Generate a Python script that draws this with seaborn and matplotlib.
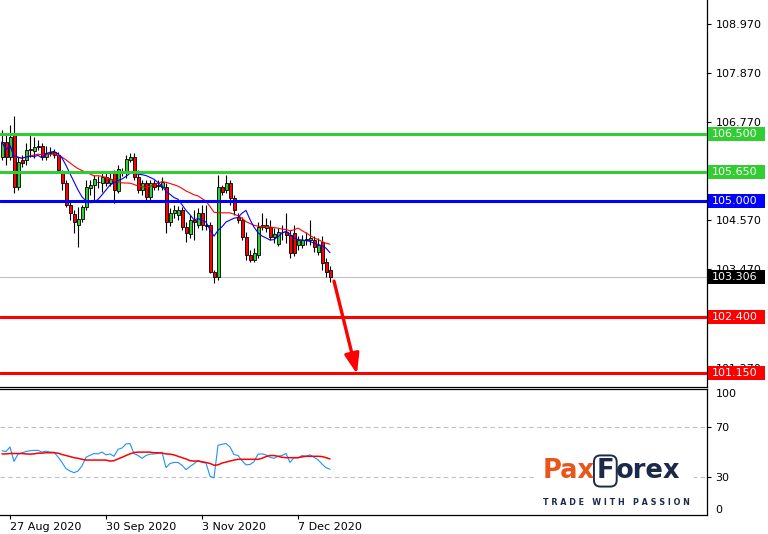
import matplotlib
matplotlib.use("Agg")
import matplotlib.pyplot as plt
import matplotlib.transforms as mtransforms
from matplotlib.patches import Rectangle
from matplotlib.text import Annotation
import seaborn as sns
import numpy as np
import pandas as pd

# ---------------------------------------------------------------- data
first_day = "2020-08-25"

opens = [105.98, 106.32, 105.98, 106.48, 105.31, 105.92, 105.92, 106.14, 106.12, 106.23,
         106.23, 105.98, 106.07, 106.10, 106.03, 105.65, 105.40, 104.91, 104.71, 104.46,
         104.60, 104.87, 105.29, 105.36, 105.43, 105.40, 105.54, 105.40, 105.65, 105.22,
         105.63, 105.63, 105.92, 105.98, 105.54, 105.25, 105.40, 105.09, 105.40, 105.36,
         105.31, 105.31, 104.53, 104.73, 104.69, 104.80, 104.42, 104.26, 104.57, 104.46,
         104.73, 104.46, 104.46, 103.41, 103.30, 105.31, 105.25, 105.40, 105.07, 104.64,
         104.57, 104.19, 103.79, 103.68, 103.79, 104.42, 104.40, 104.42, 104.19, 104.04,
         104.31, 104.31, 104.24, 104.28, 104.02, 104.02, 104.15, 104.13, 104.13, 103.86,
         104.08, 103.64, 103.46]
highs = [106.59, 106.48, 106.70, 106.90, 105.98, 106.03, 106.30, 106.52, 106.43, 106.36,
         106.30, 106.23, 106.21, 106.16, 106.10, 105.69, 105.47, 105.02, 104.80, 104.87,
         104.91, 105.47, 105.47, 105.58, 105.56, 105.65, 105.63, 105.65, 105.69, 105.81,
         105.74, 106.03, 106.07, 106.07, 105.69, 105.47, 105.47, 105.47, 105.47, 105.47,
         105.54, 105.40, 104.84, 104.91, 104.89, 104.87, 104.53, 104.69, 104.80, 104.84,
         104.91, 104.91, 104.53, 103.46, 105.58, 105.36, 105.58, 105.47, 105.13, 104.73,
         104.64, 104.31, 103.90, 103.95, 104.53, 104.73, 104.62, 104.57, 104.40, 104.40,
         104.46, 104.73, 104.35, 104.46, 104.22, 104.24, 104.31, 104.57, 104.22, 104.17,
         104.22, 103.72, 103.55]
lows = [105.92, 105.81, 105.92, 105.18, 105.25, 105.76, 105.81, 105.98, 105.96, 106.14,
        105.92, 105.92, 106.01, 105.96, 105.65, 105.25, 104.87, 104.57, 104.28, 103.97,
        104.53, 104.80, 105.13, 105.02, 105.29, 105.20, 105.34, 105.34, 104.96, 105.18,
        105.56, 105.51, 105.87, 105.47, 105.18, 105.13, 105.02, 105.02, 105.25, 105.25,
        105.25, 104.28, 104.44, 104.62, 104.57, 104.35, 104.08, 104.17, 104.13, 104.40,
        104.35, 104.35, 103.39, 103.17, 103.23, 105.13, 105.18, 104.91, 104.69, 104.51,
        104.13, 103.68, 103.64, 103.64, 103.72, 104.35, 104.31, 104.13, 104.06, 103.99,
        104.13, 104.06, 103.72, 103.77, 103.90, 103.95, 104.02, 104.02, 103.86, 103.79,
        103.46, 103.30, 103.19]
closes = [106.32, 105.98, 106.43, 105.31, 105.87, 105.85, 106.14, 106.16, 106.21, 106.22,
          105.98, 106.07, 106.10, 106.03, 105.69, 105.40, 104.91, 104.73, 104.53, 104.60,
          104.87, 105.31, 105.36, 105.49, 105.42, 105.54, 105.40, 105.49, 105.25, 105.72,
          105.65, 105.94, 105.98, 105.54, 105.25, 105.40, 105.09, 105.40, 105.31, 105.34,
          105.43, 104.53, 104.73, 104.80, 104.80, 104.42, 104.28, 104.57, 104.53, 104.73,
          104.46, 104.45, 103.41, 103.30, 105.31, 105.20, 105.40, 105.07, 104.80, 104.57,
          104.19, 103.79, 103.68, 103.84, 104.42, 104.46, 104.46, 104.19, 104.26, 104.31,
          104.30, 104.24, 103.84, 103.84, 104.13, 104.13, 104.14, 104.17, 103.97, 104.02,
          103.61, 103.41, 103.306]

rsi = [51.0, 50.4, 54.0, 42.5, 48.3, 49.4, 50.4, 51.0, 51.3, 51.3,
       49.9, 50.7, 49.9, 49.9, 46.1, 41.7, 36.8, 34.9, 33.6, 34.9,
       39.0, 45.8, 47.4, 48.8, 48.5, 49.9, 47.7, 48.5, 46.6, 52.1,
       53.2, 56.4, 56.7, 48.8, 47.2, 45.0, 47.2, 48.3, 48.5, 48.8,
       49.9, 37.6, 40.9, 41.7, 41.7, 39.5, 36.0, 38.5, 40.6, 43.4,
       41.7, 41.2, 30.8, 29.5, 55.3, 56.1, 56.7, 54.0, 48.0, 47.2,
       43.1, 39.8, 40.1, 42.3, 48.3, 48.5, 47.7, 45.8, 45.0, 46.6,
       47.2, 48.8, 41.7, 45.5, 45.3, 47.2, 46.6, 47.7, 45.8, 43.9,
       40.4, 37.6, 36.3]
rsi_signal = [48.5, 48.5, 48.8, 48.8, 48.8, 48.8, 48.5, 48.3, 48.5, 49.1,
              49.1, 49.4, 49.4, 49.4, 49.1, 48.0, 47.2, 46.4, 45.5, 45.0,
              44.2, 43.6, 43.6, 43.6, 43.6, 43.6, 43.6, 42.8, 43.1, 44.5,
              45.8, 47.2, 48.5, 49.6, 49.9, 49.9, 49.9, 49.9, 49.4, 49.4,
              49.1, 48.5, 48.3, 47.7, 46.6, 45.5, 44.5, 43.1, 42.8, 42.8,
              42.3, 41.7, 40.9, 39.5, 39.8, 41.2, 42.0, 42.8, 43.6, 44.2,
              44.2, 44.2, 44.2, 44.2, 44.2, 45.0, 46.4, 47.2, 47.2, 46.6,
              45.8, 45.5, 45.5, 45.5, 45.5, 46.1, 46.6, 46.6, 46.6, 46.6,
              46.4, 45.5, 44.5]

levels = [106.50, 105.65, 105.00, 102.40, 101.15]
level_colors = ["#32CD32", "#32CD32", "#0000FF", "#FF0000", "#FF0000"]
# 105.670 and 102.370 sit fully under the level tags, so they are left out
price_ticks = [101.27, 103.47, 104.57, 106.77, 107.87, 108.97]
rsi_ticks = [0, 30, 70, 100]
rsi_levels = [30, 70]
tick_dates = ["2020-08-27", "2020-09-30", "2020-11-03", "2020-12-07"]
arrow_from = (83, 103.21)
arrow_to = (88.75, 101.13)

GREEN = "#32CD32"
ORANGE = "#E8561C"
NAVY = "#1B2A4A"

# ---------------------------------------------------------------- frame
sns.set_style("white")
plt.rcParams["font.family"] = ["DejaVu Sans"]

dates = pd.bdate_range(first_day, periods=len(closes))
df = pd.DataFrame({"i": np.arange(len(closes)), "open": opens, "high": highs,
                   "low": lows, "close": closes, "rsi": rsi, "sig": rsi_signal})
df["ma_fast"] = df["close"].rolling(8, min_periods=1).mean()
df["ma_slow"] = df["close"].rolling(21, min_periods=1).mean()

W, H = 768, 534
fig = plt.figure(figsize=(W / 100, H / 100), dpi=100)
ax = fig.add_axes([0, 1 - 387 / H, 707 / W, 387 / H])
axr = fig.add_axes([0, 1 - 515 / H, 707 / W, 126 / H], sharex=ax)

# ---------------------------------------------------------------- candles
up = df["close"] >= df["open"]
ax.vlines(df["i"], df["low"], df["high"], color="black", lw=0.8, zorder=2)
ax.bar(df["i"][up], (df["close"] - df["open"])[up], bottom=df["open"][up],
       width=0.75, color=GREEN, edgecolor="black", lw=0.6, zorder=3)
ax.bar(df["i"][~up], (df["open"] - df["close"])[~up], bottom=df["close"][~up],
       width=0.75, color="#FF0000", edgecolor="black", lw=0.6, zorder=3)

sns.lineplot(data=df, x="i", y="ma_slow", ax=ax, color="#FF0000", lw=0.8, zorder=4)
sns.lineplot(data=df, x="i", y="ma_fast", ax=ax, color="#0000FF", lw=0.8, zorder=4)

ax.axhline(closes[-1], color="#C0C0C0", lw=0.8, zorder=1)
for lvl, col in zip(levels, level_colors):
    ax.axhline(lvl, color=col, lw=2.2, zorder=5)

ax.annotate("", xy=arrow_to, xytext=arrow_from,
            arrowprops=dict(arrowstyle="-|>,head_length=0.6,head_width=0.22",
                            color="#FF0000", lw=2.4, mutation_scale=20,
                            shrinkA=0, shrinkB=0), zorder=6)

ax.set_xlim(-0.5, 176.25)
ax.set_ylim(100.84, 109.50)
ax.set_xlabel("")
ax.set_ylabel("")
ax.yaxis.tick_right()
ax.set_yticks(price_ticks)
ax.set_yticklabels([f"{v:.3f}" for v in price_ticks])
ax.tick_params(axis="y", direction="out", length=3, width=0.8, labelsize=8,
               pad=3, colors="black")
ax.tick_params(axis="x", bottom=False, labelbottom=False)
for side in ["left", "top"]:
    ax.spines[side].set_visible(False)
for side in ["right", "bottom"]:
    ax.spines[side].set_color("black")
    ax.spines[side].set_linewidth(0.9)

# price tags on the right scale
px = (ax.get_ylim()[1] - ax.get_ylim()[0]) / 387
trans = mtransforms.blended_transform_factory(ax.transAxes, ax.transData)
tags = list(zip(levels, level_colors)) + [(closes[-1], "black")]
for lvl, col in tags:
    ax.add_patch(Rectangle((1 + 1 / 707, lvl - 7 * px), 57 / 707, 14 * px,
                           transform=trans, facecolor=col, edgecolor="none",
                           clip_on=False, zorder=8))
    ax.text(1 + 5 / 707, lvl, f"{lvl:.3f}", transform=trans, color="white",
            fontsize=8, va="center", ha="left", clip_on=False, zorder=9)

# ---------------------------------------------------------------- RSI panel
for lv in rsi_levels:
    axr.axhline(lv, color="#C0C0C0", lw=0.8, ls=(0, (4, 3)), zorder=1)
sns.lineplot(data=df, x="i", y="rsi", ax=axr, color="#1E90FF", lw=0.8, zorder=3)
sns.lineplot(data=df, x="i", y="sig", ax=axr, color="#FF0000", lw=1.1, zorder=4)

axr.set_ylim(0, 100)
axr.set_xlabel("")
axr.set_ylabel("")
axr.yaxis.tick_right()
axr.set_yticks(rsi_ticks)
axr.set_yticklabels([str(v) for v in rsi_ticks])
axr.tick_params(axis="y", direction="out", length=3, width=0.8, labelsize=8,
                pad=3, colors="black")
ylabels = axr.get_yticklabels()
ylabels[0].set_va("bottom")
ylabels[-1].set_va("top")
yt = axr.yaxis.get_major_ticks()
yt[0].tick2line.set_visible(False)
yt[-1].tick2line.set_visible(False)

xpos = [dates.get_loc(pd.Timestamp(d)) for d in tick_dates]
axr.set_xticks(xpos)
axr.set_xticklabels([f"{dates[p].day} {dates[p]:%b %Y}" for p in xpos], ha="left")
axr.tick_params(axis="x", direction="out", length=3, width=0.8, labelsize=8,
                pad=2, colors="black", bottom=True)
axr.spines["left"].set_visible(False)
for side in ["right", "bottom", "top"]:
    axr.spines[side].set_color("black")
    axr.spines[side].set_linewidth(0.9)

# ---------------------------------------------------------------- logo
fig.add_artist(Rectangle((537 / W, 1 - 512 / H), 157 / W, 62 / H,
                         transform=fig.transFigure, facecolor="white",
                         edgecolor="none", zorder=5))
t1 = fig.text(543 / W, 1 - 478 / H, "Pax", color=ORANGE, fontsize=18.5,
              fontweight="bold", va="baseline", zorder=6)
t2 = Annotation("F", xy=(1, 0), xycoords=t1, xytext=(1, 0),
                textcoords="offset points", va="bottom", ha="left",
                color=NAVY, fontsize=18.5, fontweight="bold", zorder=6,
                bbox=dict(boxstyle="round,pad=0.1,rounding_size=0.25",
                          facecolor="white", edgecolor=NAVY, lw=1.4))
fig.add_artist(t2)
t3 = Annotation("orex", xy=(1, 0), xycoords=t2, xytext=(1, 0),
                textcoords="offset points", va="bottom", ha="left",
                color=NAVY, fontsize=18.5, fontweight="bold", zorder=6)
fig.add_artist(t3)
fig.text(543 / W, 1 - 505 / H, "   ".join(" ".join(w) for w in "TRADE WITH PASSION".split()),
         color=NAVY, fontsize=5.8, fontweight="bold", va="baseline", zorder=6)

fig.savefig("out.png", dpi=100)
